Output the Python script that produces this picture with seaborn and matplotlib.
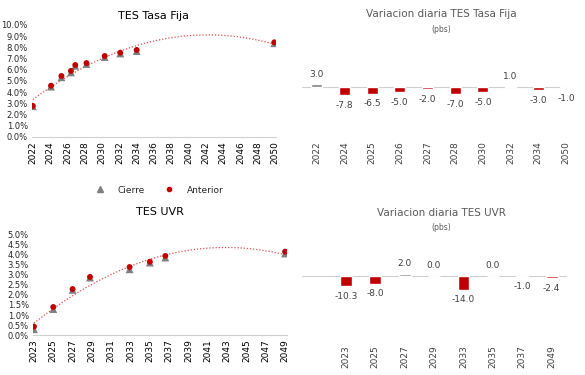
import numpy as np
import pandas as pd
import matplotlib
matplotlib.use("Agg")
import matplotlib.pyplot as plt
import seaborn as sns
from matplotlib.ticker import FuncFormatter

# TES Tasa Fija curve (maturity in years, yield %)
fija_plazo = [2022.0, 2024.1, 2025.3, 2026.4, 2026.9, 2028.2, 2030.3, 2032.1, 2034.0, 2049.9]
fija_cierre = [2.75, 4.50, 5.33, 5.77, 6.36, 6.52, 7.14, 7.46, 7.67, 8.37]
fija_anterior = [2.78, 4.58, 5.45, 5.90, 6.43, 6.60, 7.23, 7.53, 7.77, 8.45]

# TES UVR curve
uvr_plazo = [2023.0, 2025.0, 2027.0, 2028.8, 2032.9, 2035.0, 2036.6, 2049.0]
uvr_cierre = [0.30, 1.30, 2.25, 2.86, 3.27, 3.60, 3.85, 4.05]
uvr_anterior = [0.43, 1.40, 2.29, 2.89, 3.38, 3.64, 3.93, 4.14]

# daily change (pbs)
fija_cat = ["2022", "2024", "2025", "2026", "2027", "2028", "2030", "2032", "2034", "2050"]
fija_var = [3.0, -7.8, -6.5, -5.0, -2.0, -7.0, -5.0, 1.0, -3.0, -1.0]
uvr_cat = ["2023", "2025", "2027", "2029", "2033", "2035", "2037", "2049"]
uvr_var = [-10.3, -8.0, 2.0, 0.0, -14.0, 0.0, -1.0, -2.4]

RED = "#C00000"
GRAY = "#7F7F7F"
TXT = "#404040"

sns.set_style("white")
plt.rcParams["font.family"] = ["DejaVu Sans"]

fig = plt.figure(figsize=(5.85, 3.75), dpi=100)
W, H = 585.0, 375.0


def add_axes(x0, y0, x1, y1):
    # pixel box -> figure fraction
    return fig.add_axes([x0 / W, 1 - y1 / H, (x1 - x0) / W, (y1 - y0) / H])


def curve(ax, plazo, cierre, anterior, xlim, ylim, yticks, ticks, title, pad):
    sns.regplot(x=plazo, y=cierre, order=2, ci=None, scatter=False, ax=ax,
                truncate=True,
                line_kws={"color": "#E05050", "lw": 0.9, "ls": (0, (1, 1.5))})
    sns.scatterplot(x=plazo, y=cierre, marker="^", color=GRAY, s=32,
                    edgecolor="none", ax=ax, zorder=3)
    sns.scatterplot(x=plazo, y=anterior, marker="o", color=RED, s=18,
                    edgecolor="none", ax=ax, zorder=4)
    ax.set_xlim(*xlim)
    ax.set_ylim(*ylim)
    ax.set_yticks(yticks)
    ax.set_xticks(ticks)
    ax.set_xticklabels([str(t) for t in ticks], rotation=90, fontsize=6.5, color="#000000")
    ax.yaxis.set_major_formatter(FuncFormatter(lambda v, p: f"{v:.1f}%"))
    ax.tick_params(axis="y", labelsize=6, length=0, pad=3)
    ax.tick_params(axis="x", length=0, pad=3)
    for s in ["top", "right", "left"]:
        ax.spines[s].set_visible(False)
    ax.spines["bottom"].set_color("#D0D0D0")
    ax.spines["bottom"].set_linewidth(0.8)
    ax.set_title(title, fontsize=8, color="#000000", pad=pad)


def barras(ax, cats, vals, xlim, ylim, title, title_y):
    colors = [GRAY if v > 0 else RED for v in vals]
    sns.barplot(x=cats, y=vals, hue=cats, palette=colors, legend=False,
                width=0.4, ax=ax, saturation=1)
    ax.axhline(0, color="#D0D0D0", lw=0.8, zorder=0)
    for cont, v in zip(ax.containers, vals):
        ax.bar_label(cont, labels=[f"{v:.1f}"], padding=4, fontsize=6.5, color=TXT)
    ax.set_xlim(*xlim)
    ax.set_ylim(*ylim)
    ax.set_yticks([])
    ax.tick_params(axis="x", length=0, pad=4, labelsize=6.5, labelcolor=TXT, rotation=90)
    sns.despine(ax=ax, left=True, bottom=True)
    fig.text(441 / W, 1 - title_y / H, title,
             ha="center", va="center", fontsize=7.5, color="#595959")
    fig.text(441 / W, 1 - (title_y + 15) / H,
             "(pbs)", ha="center", va="center", fontsize=5.5, color="#595959")


ax1 = add_axes(32, 25, 276, 137)
curve(ax1, fija_plazo, fija_cierre, fija_anterior, (2021.9, 2050.1), (0, 10),
      np.arange(0, 10.01, 1), list(range(2022, 2051, 2)), "TES Tasa Fija", 4)

ax2 = add_axes(33, 234.3, 287, 335.3)
curve(ax2, uvr_plazo, uvr_cierre, uvr_anterior, (2022.9, 2049.2), (0, 5),
      np.arange(0, 5.01, 0.5), list(range(2023, 2050, 2)), "TES UVR", 14)

ax3 = add_axes(302, 40, 571, 136)
barras(ax3, fija_cat, fija_var, (-0.53, 9.18), (-48.7, 47.3),
       "Variacion diaria TES Tasa Fija", 14)

ax4 = add_axes(301.7, 240, 566.7, 340)
barras(ax4, uvr_cat, uvr_var, (-1.5, 7.51), (-64.3, 35.7),
       "Variacion diaria TES UVR", 213)

# legend between the two curves
h1 = plt.Line2D([], [], marker="^", color=GRAY, ls="none", markersize=5)
h2 = plt.Line2D([], [], marker="o", color=RED, ls="none", markersize=3)
fig.legend([h1, h2], ["Cierre", "Anterior"], loc="center", ncol=2,
           bbox_to_anchor=(157 / W, 1 - 190 / H), frameon=False, fontsize=6.5,
           columnspacing=1.6, handletextpad=1.0)

fig.savefig("out.png", dpi=100)
